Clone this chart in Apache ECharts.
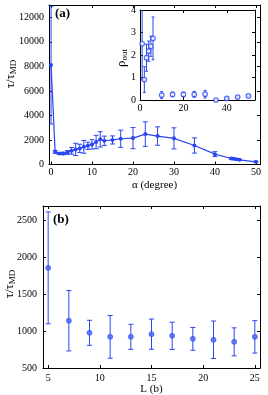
<!DOCTYPE html>
<html><head><meta charset="utf-8">
<script src="https://cdn.jsdelivr.net/npm/echarts@6/dist/echarts.min.js"></script>
<style>html,body{margin:0;padding:0;background:#fff}#c{width:268px;height:395px}</style>
</head><body><div id="c"></div>
<script>
// Panel (a) main: alpha (degree), tau/tau_MD, error
const alphaMain = [0,1,2,3,4,5,6,7,8,9,10,11,12,13,15,17,20,23,26,30,35,40,44,44.5,45.2,46,50];
const tauMain   = [8100,1030,900,900,980,1115,1230,1310,1440,1525,1640,1830,2050,1935,2000,2100,2150,2480,2320,2130,1550,845,490,460,435,380,215];
const tauErr    = [4800,120,80,100,150,270,500,340,520,290,380,550,620,380,330,700,860,1000,750,860,620,200,60,50,50,40,40];
// Panel (a) inset: rho_out
const alphaInset = [1,2,3,4,5,6,10,15,20,25,30,35,40,45,50];
const rhoOut     = [2.5,0.91,1.88,2.17,2.39,2.74,0.22,0.25,0.25,0.25,0.26,0.0,0.07,0.13,0.18];
const rhoErr     = [1.6,0.57,0.6,0.45,0.45,0.95,0.15,0.1,0.1,0.13,0.17,0.02,0.02,0.02,0.02];
// Panel (b)
const Lb   = [5,7,9,11,13,15,17,19,21,23,25];
const tauB = [1860,1142,978,923,923,960,937,896,883,855,923];
const errB = [760,410,170,290,170,205,185,155,255,190,220];
// Tick labels
const xTicksA = [0,10,20,30,40,50];
const yTicksA = [0,2000,4000,6000,8000,10000,12000];
const xTicksInset = [0,20,40];
const yTicksInset = [0,1,2,3,4];
const xTicksB = [5,10,15,20,25];
const yTicksB = [500,1000,1500,2000,2500];

const BLUE = '#2a46f0';
const FONT = 'Liberation Serif';

function zip3(a,b,c){return a.map((v,i)=>[v,b[i],c[i]]);}
function errSeries(xi, yi, data, cap, color){
  return {type:'custom', xAxisIndex:xi, yAxisIndex:yi, clip:true, z:3,
    data:data,
    renderItem:function(params, api){
      const x=api.value(0), y=api.value(1), e=api.value(2);
      const t=api.coord([x,y+e]), b=api.coord([x,y-e]);
      const st={stroke:color, lineWidth:1};
      return {type:'group', children:[
        {type:'line', shape:{x1:t[0],y1:t[1],x2:b[0],y2:b[1]}, style:st},
        {type:'line', shape:{x1:t[0]-cap,y1:t[1],x2:t[0]+cap,y2:t[1]}, style:st},
        {type:'line', shape:{x1:b[0]-cap,y1:b[1],x2:b[0]+cap,y2:b[1]}, style:st}
      ]};
    }};
}
const plain = v => String(v);
function lab(ticks, margin){
  return {show:true, customValues:ticks, color:'#000', fontFamily:FONT, fontSize:10, margin:margin, formatter:plain};
}
function ax(grid, pos, min, max, ticks, showLabel, extra){
  const o = {type:'value', gridIndex:grid, position:pos, min:min, max:max,
    splitLine:{show:false},
    axisLine:{show:true, onZero:false, lineStyle:{color:'#000', width:1}},
    axisTick:{show:true, inside:true, length:3, customValues:ticks, lineStyle:{color:'#000'}},
    axisLabel:showLabel ? lab(ticks,4) : {show:false}
  };
  return Object.assign(o, extra||{});
}
const G = {containLabel:false, outerBoundsMode:'none'};
const rich = {m:{fontFamily:FONT, fontSize:13, fill:'#000'}, s:{fontFamily:FONT, fontSize:9, fill:'#000', padding:[6,0,0,0]}};
function vname(x, y, txt){
  return {type:'text', x:x, y:y, rotation:Math.PI/2, z:10,
    style:{text:txt, rich:rich, align:'center', verticalAlign:'middle', fill:'#000', font:'13px "Liberation Serif"'}};
}

const option = {
  animation:false,
  grid:[
    Object.assign({left:49, top:5, width:211, height:159.5, show:false}, G),
    Object.assign({left:140, top:10, width:115, height:90, show:true, backgroundColor:'#fff', borderWidth:0, z:5}, G),
    Object.assign({left:43, top:206, width:217, height:162, show:false}, G)
  ],
  xAxis:[
    ax(0,'bottom',-0.5,51,xTicksA,true,{name:'α (degree)', nameLocation:'middle', nameGap:15, nameTextStyle:{color:'#000', fontFamily:FONT, fontSize:11}, axisLabel:lab(xTicksA,3)}),
    ax(0,'top',-0.5,51,xTicksA,false),
    ax(1,'bottom',0,53,xTicksInset,true,{z:6, axisLabel:lab(xTicksInset,3)}),
    ax(1,'top',0,53,xTicksInset,false,{z:6}),
    ax(2,'bottom',4.5,25.5,xTicksB,true,{name:'L (b)', nameLocation:'middle', nameGap:16, nameTextStyle:{color:'#000', fontFamily:FONT, fontSize:11}, axisLabel:lab(xTicksB,5)}),
    ax(2,'top',4.5,25.5,xTicksB,false)
  ],
  yAxis:[
    ax(0,'left',0,13000,yTicksA,true,{axisLabel:lab(yTicksA,5)}),
    ax(0,'right',0,13000,yTicksA,false),
    ax(1,'left',0,4,yTicksInset,true,{z:6, axisLabel:lab(yTicksInset,4)}),
    ax(1,'right',0,4,yTicksInset,false,{z:6}),
    ax(2,'left',500,2700,yTicksB,true,{axisLabel:lab(yTicksB,6)}),
    ax(2,'right',500,2700,yTicksB,false)
  ],
  series:[
    {type:'line', xAxisIndex:0, yAxisIndex:0, data:alphaMain.map((a,i)=>[a,tauMain[i]]),
      symbol:'circle', symbolSize:4, itemStyle:{color:BLUE}, lineStyle:{color:BLUE, width:1.2}, z:4},
    errSeries(0,0,zip3(alphaMain,tauMain,tauErr),2.5,BLUE),
    {type:'scatter', xAxisIndex:2, yAxisIndex:2, data:alphaInset.map((a,i)=>[a,rhoOut[i]]),
      symbol:'circle', symbolSize:4.5, itemStyle:{color:'#fff', borderColor:BLUE, borderWidth:1.2}, z:8},
    Object.assign(errSeries(2,2,zip3(alphaInset,rhoOut,rhoErr),1.5,BLUE),{z:7}),
    {type:'scatter', xAxisIndex:4, yAxisIndex:4, data:Lb.map((l,i)=>[l,tauB[i]]),
      symbol:'circle', symbolSize:5, itemStyle:{color:'#4a66f0', borderColor:BLUE, borderWidth:0.8}, z:4},
    errSeries(4,4,zip3(Lb,tauB,errB),2.5,BLUE)
  ],
  graphic:[
    {type:'text', left:55, top:7, z:10, style:{text:'(a)', font:'bold 13px "Liberation Serif"', fill:'#000'}},
    {type:'text', left:53, top:213, z:10, style:{text:'(b)', font:'bold 13px "Liberation Serif"', fill:'#000'}},
    vname(11, 74, '{m|τ/τ}{s|MD}'),
    vname(10, 284, '{m|τ/τ}{s|MD}'),
    vname(122, 58, '{m|ρ}{s|out}')
  ]
};
const chart = echarts.init(document.getElementById('c'), null, {renderer:'canvas'});
chart.setOption(option);
</script></body></html>
